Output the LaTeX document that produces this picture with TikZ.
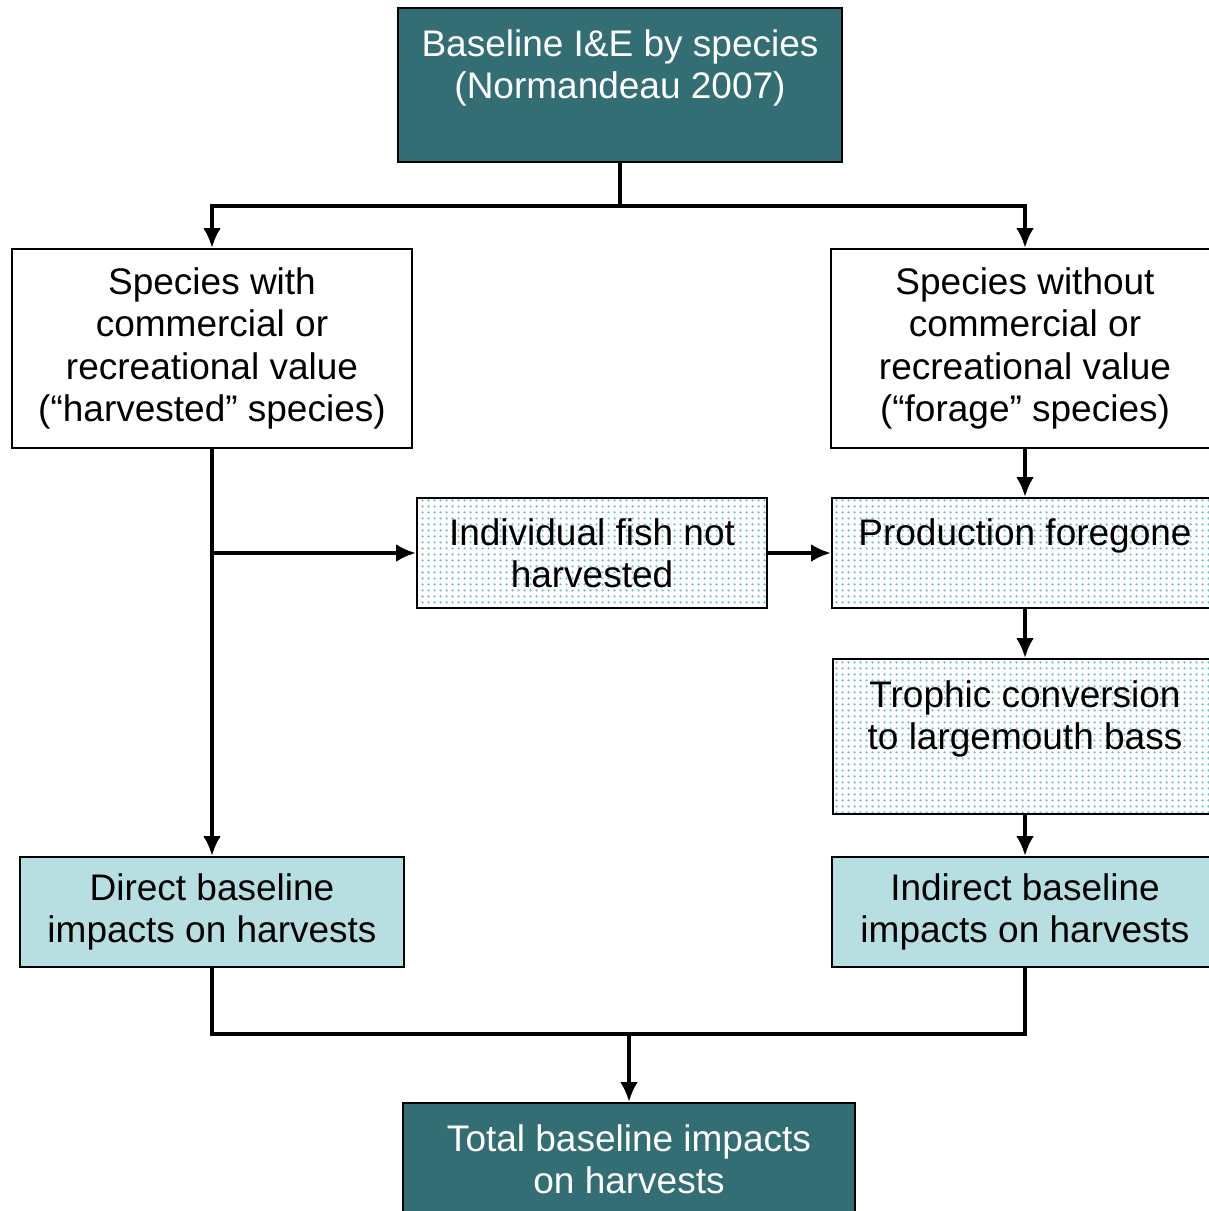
\documentclass[tikz,border=0pt]{standalone}
\usepackage{fontspec}
\setmainfont{Liberation Sans}
\usepackage{tikz}
\usetikzlibrary{arrows.meta, patterns.meta}
\definecolor{tealbox}{RGB}{50,110,115}
\definecolor{paleteal}{RGB}{183,222,225}
\definecolor{dotteal}{RGB}{120,195,200}
\pgfdeclarepattern{
	name=tealdots, type=uncolored,
	bottom left={\pgfpoint{0pt}{0pt}}, top right={\pgfpoint{3pt}{3pt}},
	tile size={\pgfpoint{3pt}{3pt}},
	code={\pgfpathcircle{\pgfpoint{1.5pt}{1.5pt}}{0.75pt}\pgfusepath{fill}}
}
\tikzset{
	box/.style={draw=black, line width=1pt, align=center, inner sep=0pt,
		font=\fontsize{18.5}{21.2}\selectfont},
	darkbox/.style={box, fill=tealbox, text=white},
	plainbox/.style={box, fill=white},
	dotbox/.style={box, pattern=tealdots, pattern color=dotteal},
	lightbox/.style={box, fill=paleteal},
	link/.style={line width=2.3pt, line join=miter},
	arr/.style={link, -{Latex[length=10pt, width=9pt]}}
}

\begin{document}
\begin{tikzpicture}[x=0.5pt, y=-0.5pt]
		\useasboundingbox (0, 0) rectangle (1209, 1211);
		\clip (0, 0) rectangle (1209, 1211);
		% boxes
		\node[darkbox, minimum width=222pt, minimum height=77pt] (top) at (620, 85) {Baseline I\&E by species\\(Normandeau 2007)\\\mbox{}};
		\node[plainbox, minimum width=200pt, minimum height=99.5pt] (harv) at (212, 348.5) {Species with\\commercial or\\recreational value\\(“harvested” species)};
		\node[plainbox, minimum width=194pt, minimum height=99.5pt] (forage) at (1025, 348.5) {Species without\\commercial or\\recreational value\\(“forage” species)};
		\node[dotbox, minimum width=175pt, minimum height=55pt] (notharv) at (592, 553) {Individual fish not\\harvested};
		\node[dotbox, minimum width=193pt, minimum height=55pt] (prod) at (1025, 553) {Production foregone\\\mbox{}};
		\node[dotbox, minimum width=192pt, minimum height=77.5pt] (troph) at (1025, 736.5) {Trophic conversion\\to largemouth bass\\\mbox{}};
		\node[lightbox, minimum width=192pt, minimum height=55pt] (direct) at (212, 912) {Direct baseline\\impacts on harvests};
		\node[lightbox, minimum width=193pt, minimum height=55pt] (indirect) at (1025, 912) {Indirect baseline\\impacts on harvests};
		\node[darkbox, minimum width=226pt, minimum height=77pt] (total) at (629, 1180) {Total baseline impacts\\on harvests\\\mbox{}};
		% connectors
		\coordinate (split) at (620, 206);
		\draw[link] (top.south) -- (split);
		\draw[arr] (split) -| (harv.north);
		\draw[arr] (split) -| (forage.north);
		\draw[arr] (harv.south) -- (direct.north);
		\coordinate (fork) at (harv.south |- notharv.west);
		\draw[arr] (fork) -- (notharv.west);
		\draw[arr] (notharv.east) -- (prod.west);
		\draw[arr] (forage.south) -- (prod.north);
		\draw[arr] (prod.south) -- (troph.north);
		\draw[arr] (troph.south) -- (indirect.north);
		\coordinate (join) at (629, 1034);
		\draw[link] (direct.south) |- (join) -| (indirect.south);
		\draw[arr] (join) -- (total.north);
\end{tikzpicture}
\end{document}
